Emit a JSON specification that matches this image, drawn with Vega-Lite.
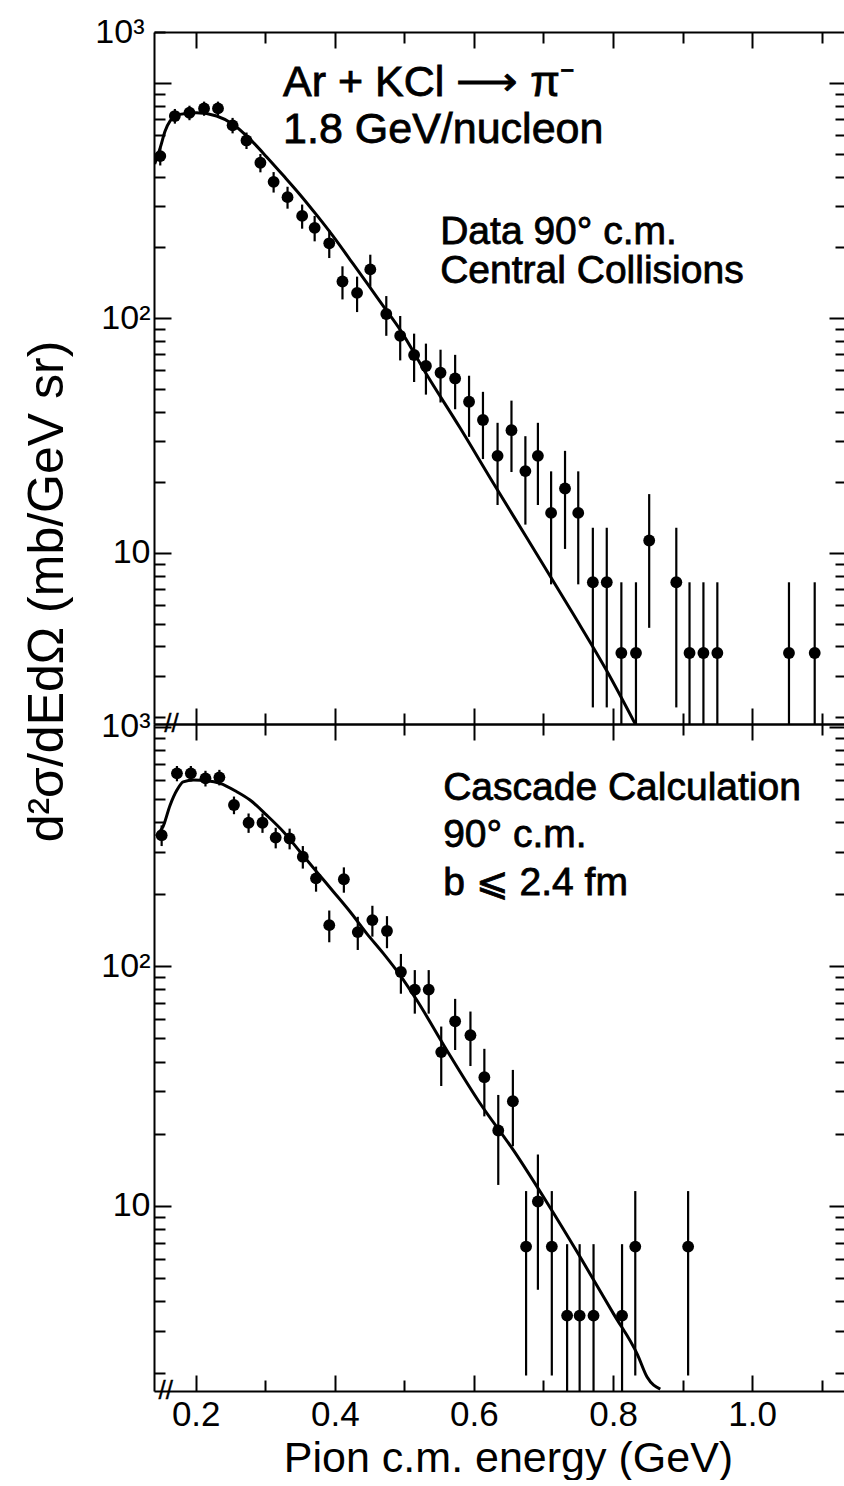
{
  "$schema": "https://vega.github.io/schema/vega-lite/v6.json",
  "padding": {"left": 22, "top": 15, "right": 0, "bottom": 0},
  "config": {
    "view": {"stroke": null},
    "font": "Liberation Sans",
    "text": {"stroke": "black", "strokeWidth": 0.8},
    "axis": {"grid": false, "domainColor": "black", "domainWidth": 2, "tickColor": "black", "tickWidth": 2, "labelColor": "black", "titleColor": "black", "labelFont": "Liberation Sans", "titleFont": "Liberation Sans", "titleFontWeight": "normal", "labelOverlap": false, "labelFlush": false, "labelBound": false}
  },
  "datasets": {
    "top": [
      {"E":0.149,"v":489,"lo":446,"hi":532},
      {"E":0.170,"v":724,"lo":672,"hi":776},
      {"E":0.191,"v":748,"lo":695,"hi":801},
      {"E":0.212,"v":780,"lo":726,"hi":834},
      {"E":0.232,"v":780,"lo":726,"hi":834},
      {"E":0.253,"v":661,"lo":611,"hi":711},
      {"E":0.273,"v":570,"lo":524,"hi":616},
      {"E":0.293,"v":458,"lo":417,"hi":499},
      {"E":0.312,"v":380,"lo":342,"hi":418},
      {"E":0.332,"v":327,"lo":292,"hi":362},
      {"E":0.353,"v":272,"lo":240,"hi":304},
      {"E":0.371,"v":242,"lo":212,"hi":272},
      {"E":0.392,"v":208,"lo":180,"hi":236},
      {"E":0.411,"v":143,"lo":120,"hi":166},
      {"E":0.432,"v":128,"lo":106,"hi":150},
      {"E":0.451,"v":161,"lo":136,"hi":186},
      {"E":0.474,"v":104,"lo":84,"hi":124},
      {"E":0.494,"v":84,"lo":66,"hi":102},
      {"E":0.514,"v":69.6,"lo":53.4,"hi":85.8},
      {"E":0.531,"v":62.5,"lo":47.2,"hi":77.8},
      {"E":0.552,"v":58.5,"lo":43.7,"hi":73.3},
      {"E":0.573,"v":55.3,"lo":40.9,"hi":69.7},
      {"E":0.593,"v":44.0,"lo":31.2,"hi":56.8},
      {"E":0.613,"v":36.8,"lo":25.1,"hi":48.5},
      {"E":0.634,"v":25.9,"lo":16.0,"hi":35.8},
      {"E":0.654,"v":33.3,"lo":22.1,"hi":44.5},
      {"E":0.674,"v":22.3,"lo":13.2,"hi":31.4},
      {"E":0.692,"v":25.9,"lo":16.0,"hi":35.8},
      {"E":0.711,"v":14.8,"lo":7.35,"hi":22.25},
      {"E":0.731,"v":18.8,"lo":10.4,"hi":27.2},
      {"E":0.750,"v":14.8,"lo":7.35,"hi":22.25},
      {"E":0.771,"v":7.5,"lo":2.2,"hi":12.8},
      {"E":0.791,"v":7.5,"lo":2.2,"hi":12.8},
      {"E":0.812,"v":3.75,"lo":1.87,"hi":7.5},
      {"E":0.833,"v":3.75,"lo":1.87,"hi":7.5},
      {"E":0.852,"v":11.3,"lo":4.8,"hi":17.8},
      {"E":0.891,"v":7.5,"lo":2.2,"hi":12.8},
      {"E":0.910,"v":3.75,"lo":1.87,"hi":7.5},
      {"E":0.930,"v":3.75,"lo":1.87,"hi":7.5},
      {"E":0.950,"v":3.75,"lo":1.87,"hi":7.5},
      {"E":1.053,"v":3.75,"lo":1.87,"hi":7.5},
      {"E":1.090,"v":3.75,"lo":1.87,"hi":7.5}
    ],
    "bottom": [
      {"E":0.151,"v":353,"lo":318,"hi":388},
      {"E":0.173,"v":640,"lo":593,"hi":687},
      {"E":0.193,"v":640,"lo":593,"hi":687},
      {"E":0.214,"v":610,"lo":564,"hi":656},
      {"E":0.234,"v":616,"lo":570,"hi":662},
      {"E":0.255,"v":472,"lo":432,"hi":512},
      {"E":0.276,"v":398,"lo":361,"hi":435},
      {"E":0.296,"v":398,"lo":361,"hi":435},
      {"E":0.315,"v":345,"lo":311,"hi":379},
      {"E":0.335,"v":342,"lo":308,"hi":376},
      {"E":0.354,"v":287,"lo":256,"hi":318},
      {"E":0.373,"v":233,"lo":205,"hi":261},
      {"E":0.392,"v":148.5,"lo":126,"hi":171},
      {"E":0.413,"v":231,"lo":203,"hi":259},
      {"E":0.433,"v":139,"lo":117,"hi":161},
      {"E":0.454,"v":156,"lo":133,"hi":179},
      {"E":0.475,"v":140.5,"lo":119,"hi":162},
      {"E":0.495,"v":94.7,"lo":76.8,"hi":112.6},
      {"E":0.515,"v":79.9,"lo":63.4,"hi":96.4},
      {"E":0.535,"v":79.9,"lo":63.4,"hi":96.4},
      {"E":0.553,"v":43.8,"lo":31.6,"hi":56},
      {"E":0.573,"v":58.9,"lo":44.7,"hi":73.1},
      {"E":0.595,"v":51.5,"lo":38.3,"hi":64.7},
      {"E":0.615,"v":34.4,"lo":23.6,"hi":45.2},
      {"E":0.635,"v":20.6,"lo":12.2,"hi":29.0},
      {"E":0.656,"v":27.3,"lo":17.7,"hi":36.9},
      {"E":0.675,"v":6.74,"lo":1.95,"hi":11.5},
      {"E":0.692,"v":10.4,"lo":4.45,"hi":16.35},
      {"E":0.712,"v":6.74,"lo":1.95,"hi":11.5},
      {"E":0.734,"v":3.47,"lo":1.68,"hi":6.9},
      {"E":0.752,"v":3.47,"lo":1.68,"hi":6.9},
      {"E":0.772,"v":3.47,"lo":1.68,"hi":6.9},
      {"E":0.813,"v":3.47,"lo":1.68,"hi":6.9},
      {"E":0.832,"v":6.74,"lo":1.95,"hi":11.5},
      {"E":0.908,"v":6.74,"lo":1.95,"hi":11.5}
    ],
    "topcurve": [
      {"E":0.141,"v":452},{"E":0.149,"v":531},{"E":0.156,"v":625},{"E":0.163,"v":689},
      {"E":0.177,"v":736},{"E":0.201,"v":748},{"E":0.230,"v":724},{"E":0.254,"v":667},
      {"E":0.278,"v":577},{"E":0.302,"v":485},{"E":0.326,"v":404},{"E":0.350,"v":335},
      {"E":0.374,"v":274},{"E":0.398,"v":222},{"E":0.422,"v":177},{"E":0.446,"v":141},
      {"E":0.470,"v":112},{"E":0.494,"v":89},{"E":0.532,"v":57.5},{"E":0.580,"v":34.1},
      {"E":0.628,"v":19.8},{"E":0.676,"v":11.6},{"E":0.743,"v":5.48},{"E":0.791,"v":3.15},
      {"E":0.832,"v":1.87}
    ],
    "botcurve": [
      {"E":0.143,"v":350},{"E":0.153,"v":383},{"E":0.163,"v":470},{"E":0.173,"v":545},
      {"E":0.182,"v":590},{"E":0.197,"v":600},{"E":0.216,"v":596},{"E":0.235,"v":581},
      {"E":0.259,"v":536},{"E":0.278,"v":495},{"E":0.302,"v":428},{"E":0.326,"v":365},
      {"E":0.350,"v":301},{"E":0.374,"v":248},{"E":0.398,"v":205},{"E":0.422,"v":169},
      {"E":0.446,"v":137},{"E":0.470,"v":113},{"E":0.494,"v":91.7},{"E":0.518,"v":72.1},
      {"E":0.561,"v":44.6},{"E":0.609,"v":26.7},{"E":0.657,"v":17.0},{"E":0.705,"v":10.3},
      {"E":0.753,"v":6.08},{"E":0.801,"v":3.52},{"E":0.835,"v":2.39},{"E":0.849,"v":1.92},
      {"E":0.868,"v":1.71}
    ],
    "toptitle": [
      {"E":0.3256,"v":880,"t":"Ar + KCl ⟶  π⁻"},
      {"E":0.3256,"v":556,"t":"1.8 GeV/nucleon"}
    ],
    "toptext": [
      {"E":0.5515,"v":207,"t":"Data  90° c.m."},
      {"E":0.5515,"v":141,"t":"Central  Collisions"}
    ],
    "bottext": [
      {"E":0.5558,"v":495,"t":"Cascade  Calculation"},
      {"E":0.5558,"v":315,"t":"90° c.m."},
      {"E":0.5558,"v":198,"t":"b  ⩽ 2.4 fm"}
    ],
    "topbreak": [{"E":0.165,"v":1.87,"t":"//"}],
    "botbreak": [{"E":0.157,"v":1.68,"t":"//"}]
  },
  "spacing": 0,
  "bounds": "flush",
  "vconcat": [
    {
      "width": 692,
      "height": 692,
      "layer": [
        {
          "data": {"name": "top"},
          "mark": {"type": "rule", "color": "black", "strokeWidth": 2.2, "clip": true},
          "encoding": {
            "x": {"field": "E", "type": "quantitative", "scale": {"domain": [0.14, 1.135], "nice": false, "zero": false},
                  "axis": {"orient": "bottom", "values": [0.2,0.3,0.4,0.5,0.6,0.7,0.8,0.9,1.0,1.1], "labels": false, "title": null,
                           "tickSize": {"condition": {"test": "round(datum.value*10) % 2 == 0", "value": -16}, "value": -11}}},
            "y": {"field": "lo", "type": "quantitative", "scale": {"type": "log", "domain": [1.87, 1650], "nice": false},
                  "axis": {"orient": "left", "values": [2,3,4,5,6,7,8,9,10,20,30,40,50,60,70,80,90,100,200,300,400,500,600,700,800,900,1000,1650],
                           "labelExpr": "datum.value == 1650 ? '10³' : datum.value == 100 ? '10²' : datum.value == 10 ? '10' : ''",
                           "labelFontSize": 34, "labelPadding": 21,
                           "tickSize": {"condition": {"test": "datum.value == 10 || datum.value == 100 || datum.value == 1000", "value": -17}, "value": -11},
                           "title": "d²σ/dEdΩ  (mb/GeV sr)", "titleFontSize": 50, "titleX": -92, "titleY": 559, "titleAngle": -90, "titleAlign": "center", "titleBaseline": "alphabetic",
                           "encode": {"labels": {"update": {"stroke": {"value": "black"}, "strokeWidth": {"value": 0.8}}}, "title": {"update": {"stroke": {"value": "black"}, "strokeWidth": {"value": 0.8}}}}}},
            "y2": {"field": "hi"}
          }
        },
        {
          "data": {"name": "top"},
          "mark": {"type": "point", "filled": true, "color": "black", "opacity": 1, "size": 140},
          "encoding": {
            "x": {"field": "E", "type": "quantitative",
                  "axis": {"orient": "top", "values": [0.2,0.3,0.4,0.5,0.6,0.7,0.8,0.9,1.0,1.1], "labels": false, "title": null,
                           "tickSize": {"condition": {"test": "round(datum.value*10) % 2 == 0", "value": -16}, "value": -11}}},
            "y": {"field": "v", "type": "quantitative",
                  "axis": {"orient": "right", "values": [2,3,4,5,6,7,8,9,10,20,30,40,50,60,70,80,90,100,200,300,400,500,600,700,800,900,1000], "labels": false, "title": null,
                           "tickSize": {"condition": {"test": "datum.value == 10 || datum.value == 100 || datum.value == 1000", "value": -17}, "value": -11}}}
          }
        },
        {
          "data": {"name": "topcurve"},
          "mark": {"type": "line", "color": "black", "strokeWidth": 3, "interpolate": "monotone", "clip": true},
          "encoding": {
            "x": {"field": "E", "type": "quantitative", "axis": null},
            "y": {"field": "v", "type": "quantitative", "axis": null}
          }
        },
        {
          "data": {"name": "toptitle"},
          "mark": {"type": "text", "align": "left", "baseline": "alphabetic", "fontSize": 43, "color": "black"},
          "encoding": {
            "x": {"field": "E", "type": "quantitative", "axis": null},
            "y": {"field": "v", "type": "quantitative", "axis": null},
            "text": {"field": "t"}
          }
        },
        {
          "data": {"name": "toptext"},
          "mark": {"type": "text", "align": "left", "baseline": "alphabetic", "fontSize": 39, "color": "black"},
          "encoding": {
            "x": {"field": "E", "type": "quantitative", "axis": null},
            "y": {"field": "v", "type": "quantitative", "axis": null},
            "text": {"field": "t"}
          }
        },
        {
          "data": {"name": "topbreak"},
          "mark": {"type": "text", "align": "center", "baseline": "middle", "fontSize": 26, "color": "black", "strokeWidth": 0.3},
          "encoding": {
            "x": {"field": "E", "type": "quantitative", "axis": null},
            "y": {"field": "v", "type": "quantitative", "axis": null},
            "text": {"field": "t"}
          }
        }
      ]
    },
    {
      "width": 692,
      "height": 667,
      "layer": [
        {
          "data": {"name": "bottom"},
          "mark": {"type": "rule", "color": "black", "strokeWidth": 2.2, "clip": true},
          "encoding": {
            "x": {"field": "E", "type": "quantitative", "scale": {"domain": [0.14, 1.135], "nice": false, "zero": false},
                  "axis": {"orient": "bottom", "values": [0.2,0.3,0.4,0.5,0.6,0.7,0.8,0.9,1.0,1.1],
                           "labelExpr": "round(datum.value*10) % 2 == 0 ? format(datum.value, '.1f') : ''",
                           "labelFontSize": 35, "labelPadding": 22,
                           "tickSize": {"condition": {"test": "round(datum.value*10) % 2 == 0", "value": -16}, "value": -11},
                           "title": "Pion  c.m.  energy  (GeV)", "titleFontSize": 43, "titleX": 354, "titleY": 80, "titleAlign": "center", "titleBaseline": "alphabetic",
                           "encode": {"labels": {"update": {"stroke": {"value": "black"}, "strokeWidth": {"value": 0.8}}}, "title": {"update": {"stroke": {"value": "black"}, "strokeWidth": {"value": 0.8}}}}}},
            "y": {"field": "lo", "type": "quantitative", "scale": {"type": "log", "domain": [1.68, 1029], "nice": false},
                  "axis": {"orient": "left", "values": [2,3,4,5,6,7,8,9,10,20,30,40,50,60,70,80,90,100,200,300,400,500,600,700,800,900,1000],
                           "labelExpr": "datum.value == 1000 ? '10³' : datum.value == 100 ? '10²' : datum.value == 10 ? '10' : ''",
                           "labelFontSize": 34, "labelPadding": 21,
                           "tickSize": {"condition": {"test": "datum.value == 10 || datum.value == 100 || datum.value == 1000", "value": -17}, "value": -11},
                           "title": null,
                           "encode": {"labels": {"update": {"stroke": {"value": "black"}, "strokeWidth": {"value": 0.8}}}}}},
            "y2": {"field": "hi"}
          }
        },
        {
          "data": {"name": "bottom"},
          "mark": {"type": "point", "filled": true, "color": "black", "opacity": 1, "size": 140},
          "encoding": {
            "x": {"field": "E", "type": "quantitative",
                  "axis": {"orient": "top", "values": [0.2,0.3,0.4,0.5,0.6,0.7,0.8,0.9,1.0,1.1], "labels": false, "title": null,
                           "tickSize": {"condition": {"test": "round(datum.value*10) % 2 == 0", "value": -16}, "value": -11}}},
            "y": {"field": "v", "type": "quantitative",
                  "axis": {"orient": "right", "values": [2,3,4,5,6,7,8,9,10,20,30,40,50,60,70,80,90,100,200,300,400,500,600,700,800,900,1000], "labels": false, "title": null,
                           "tickSize": {"condition": {"test": "datum.value == 10 || datum.value == 100 || datum.value == 1000", "value": -17}, "value": -11}}}
          }
        },
        {
          "data": {"name": "botcurve"},
          "mark": {"type": "line", "color": "black", "strokeWidth": 3, "interpolate": "monotone", "clip": true},
          "encoding": {
            "x": {"field": "E", "type": "quantitative", "axis": null},
            "y": {"field": "v", "type": "quantitative", "axis": null}
          }
        },
        {
          "data": {"name": "bottext"},
          "mark": {"type": "text", "align": "left", "baseline": "alphabetic", "fontSize": 39, "color": "black"},
          "encoding": {
            "x": {"field": "E", "type": "quantitative", "axis": null},
            "y": {"field": "v", "type": "quantitative", "axis": null},
            "text": {"field": "t"}
          }
        },
        {
          "data": {"name": "botbreak"},
          "mark": {"type": "text", "align": "center", "baseline": "middle", "fontSize": 26, "color": "black", "strokeWidth": 0.3},
          "encoding": {
            "x": {"field": "E", "type": "quantitative", "axis": null},
            "y": {"field": "v", "type": "quantitative", "axis": null},
            "text": {"field": "t"}
          }
        }
      ]
    }
  ]
}
